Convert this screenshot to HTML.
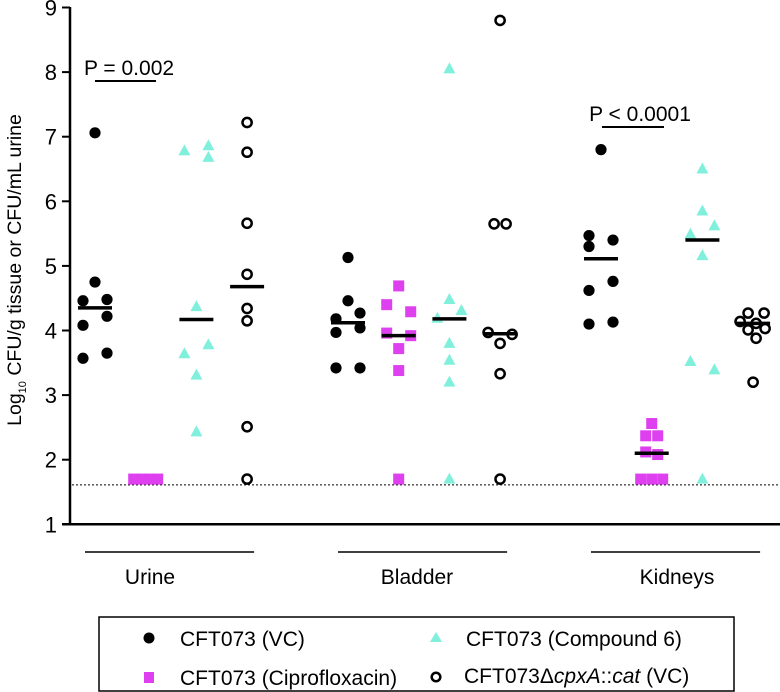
<!DOCTYPE html>
<html><head><meta charset="utf-8"><style>
html,body{margin:0;padding:0;background:#fff;}
svg{display:block;font-family:"Liberation Sans",Arial,sans-serif;}
</style></head><body>
<svg id="chart" width="780" height="692" viewBox="0 0 780 692" xmlns="http://www.w3.org/2000/svg">
<g id="axes"></g>
<g id="marks"></g>
<text transform="translate(21,270) rotate(-90)" text-anchor="middle" font-size="19.5">Log<tspan font-size="11" dy="5">10</tspan><tspan dy="-5"> CFU/g tissue or CFU/mL urine</tspan></text>
<g>
<text x="129" y="75" text-anchor="middle" font-size="21">P = 0.002</text>
<line x1="95" y1="81" x2="156" y2="81" stroke="#000" stroke-width="2"/>
</g>
<g>
<text x="640" y="121" text-anchor="middle" font-size="21">P &lt; 0.0001</text>
<line x1="602" y1="127" x2="664" y2="127" stroke="#000" stroke-width="2"/>
</g>
<g>
<rect x="99" y="617" width="635" height="74" fill="#fff" stroke="#000" stroke-width="1.5"/>
<circle cx="149" cy="638" r="5.5" fill="#000"/>
<text x="180" y="646" font-size="21">CFT073 (VC)</text>
<rect x="144" y="672" width="10" height="11" fill="#de40f0"/>
<text x="180" y="685" font-size="21">CFT073 (Ciprofloxacin)</text>
<polygon points="436,632 442,642 430,642" fill="#80f0dc"/>
<text x="466" y="646" font-size="21">CFT073 (Compound 6)</text>
<circle cx="436" cy="677" r="4.3" fill="none" stroke="#000" stroke-width="2.5"/>
<text x="464" y="683" font-size="21">CFT073Δ<tspan font-style="italic">cpxA</tspan>::<tspan font-style="italic">cat</tspan> (VC)</text>
</g>
</svg>
<script>
const groups = ["Urine","Bladder","Kidneys"];
const seriesNames = ["VC","Ciprofloxacin","Compound 6","cpxA"];
const yTicks = [1,2,3,4,5,6,7,8,9];
const limitOfDetection = 1.61;
// values per group for each series
const vcValues = [[7.06,4.75,4.46,4.48,4.22,4.08,3.65,3.57],[5.13,4.46,4.18,4.27,3.97,4.04,3.42,3.42],[6.8,5.47,5.40,5.30,4.76,4.62,4.13,4.10]];
const ciproValues = [[1.7,1.7,1.7,1.7],[4.69,4.4,4.29,3.92,3.96,3.72,3.38,1.7],[2.56,2.37,2.37,2.12,2.08,1.7,1.7,1.7]];
const c6Values = [[6.78,6.86,6.68,4.37,3.64,3.78,3.31,2.43],[8.05,4.48,4.31,4.19,3.8,3.54,3.2,1.7],[6.5,5.85,5.62,5.49,5.16,3.52,3.39,1.7]];
const cpxaValues = [[7.22,6.76,5.66,4.87,4.34,4.15,2.51,1.7],[8.8,5.65,5.65,3.97,3.94,3.8,3.33,1.7],[4.27,4.27,4.14,4.11,4.03,4.01,3.88,3.2]];
const vcMeans = [4.35,4.12,5.11];
const ciproMeans = [null,3.92,2.1];
const c6Means = [4.17,4.18,5.40];
const cpxaMeans = [4.68,3.95,4.11];
// layout jitter (horizontal scatter offsets, not data)
const jitter = {
 vc:[[0,0,-12,12,12,-12,12,-12],[0,0,-12,12,-12,12,-12,12],[0,-12,12,-12,12,-12,12,-12]],
 cipro:[[-12,-4,4,12],[0,-12,12,12,-12,0,0,0],[0,-6,6,-6,6,-11,0,11]],
 c6:[[-12,12,12,0,-12,12,0,0],[0,0,12,-12,0,0,0,0],[0,0,12,-12,0,-12,12,0]],
 cpxa:[[0,0,0,0,0,0,0,0],[0,-6,6,-12,12,0,0,0],[-5,11,-13,3,12,-5,3,0]]
};
const labelCenters = [150,417,677];
const NS="http://www.w3.org/2000/svg";
function yScale(v){return 524.3-(v-1)*64.6;}
function xScale(g,s){return 95+g*253+s*50.7;}
function mk(tag,attrs,parent){const e=document.createElementNS(NS,tag);for(const k in attrs)e.setAttribute(k,attrs[k]);parent.appendChild(e);return e;}
const axes=document.getElementById('axes'), marks=document.getElementById('marks');
let e=mk('line',{x1:70,y1:7,x2:70,y2:524.3,stroke:'#000','stroke-width':2.5},axes);


e=mk('line',{x1:62,y1:524.3,x2:780,y2:524.3,stroke:'#000','stroke-width':2.5},axes);


yTicks.forEach(t=>{
 const y=yScale(t);
 let l=mk('line',{x1:62,y1:y,x2:70,y2:y,stroke:'#000','stroke-width':2},axes);
 
 
 let tx=mk('text',{x:57,y:y+8,'text-anchor':'end','font-size':22},axes);
 tx.textContent=t;
 
 
});
e=mk('line',{x1:72,y1:yScale(limitOfDetection),x2:780,y2:yScale(limitOfDetection),stroke:'#000','stroke-width':1,'stroke-dasharray':'2,2'},axes);


groups.forEach((g,i)=>{
 const x0=xScale(i,0)-10, x1=xScale(i,3)+7;
 let l=mk('line',{x1:x0,y1:552,x2:x1,y2:552,stroke:'#000','stroke-width':1.5},axes);
 
 
 let tx=mk('text',{x:labelCenters[i],y:584,'text-anchor':'middle','font-size':21},axes);
 tx.textContent=g;
 
 
});
function drawMarker(kind,x,y){
 let m;
 if(kind==='vc') m=mk('circle',{cx:x,cy:y,r:5.6,fill:'#000'},marks);
 else if(kind==='cipro') m=mk('rect',{x:x-5.5,y:y-5.5,width:11,height:11,fill:'#de40f0'},marks);
 else if(kind==='c6') m=mk('polygon',{points:`${x},${y-6.5} ${x+6},${y+4.5} ${x-6},${y+4.5}`,fill:'#80f0dc'},marks);
 else m=mk('circle',{cx:x,cy:y,r:4.6,fill:'none',stroke:'#000','stroke-width':2.5},marks);
 
 
}
const sets=[['vc',vcValues,vcMeans],['cipro',ciproValues,ciproMeans],['c6',c6Values,c6Means],['cpxa',cpxaValues,cpxaMeans]];
sets.forEach(([kind,vals,means],s)=>{
 vals.forEach((arr,g)=>{
  arr.forEach((v,i)=>{drawMarker(kind,xScale(g,s)+((jitter[kind][g]||[])[i]||0),yScale(v));});
 });
});
sets.forEach(([kind,vals,means],s)=>{
 means.forEach((m,g)=>{
  if(m==null)return;
  const x=xScale(g,s);
  let l=mk('line',{x1:x-17,y1:yScale(m),x2:x+17,y2:yScale(m),stroke:'#000','stroke-width':3.5},marks);
  
  
 });
});
</script>
</body></html>
